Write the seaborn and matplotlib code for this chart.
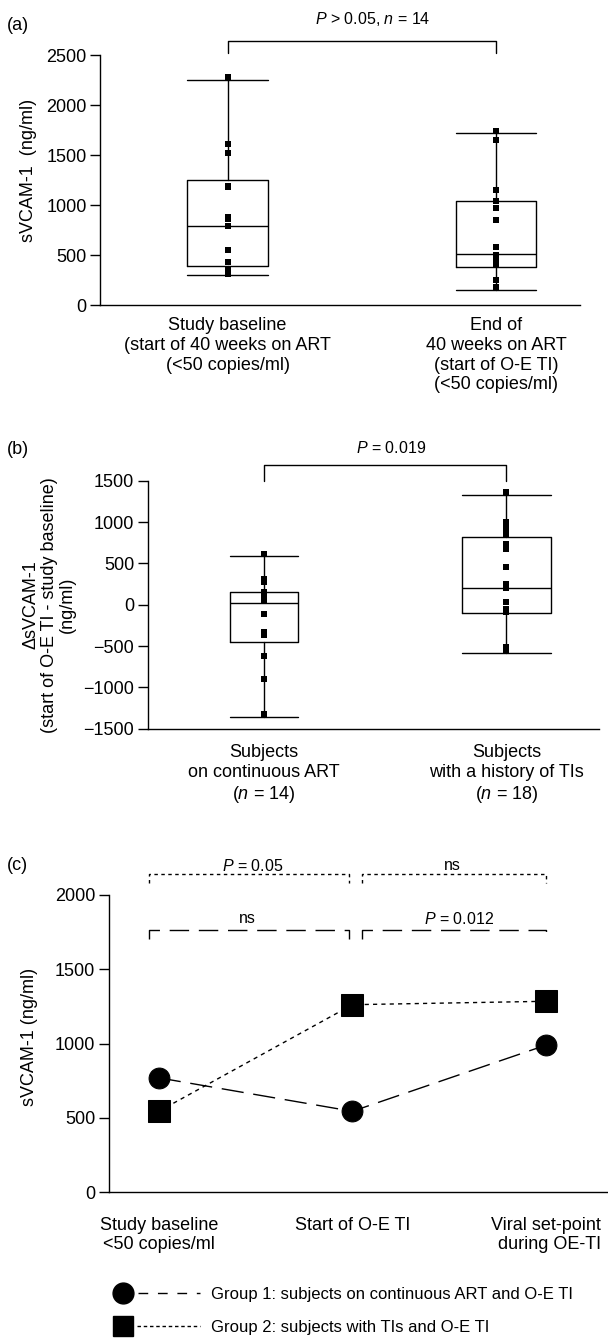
import numpy as np
import pandas as pd
import matplotlib
matplotlib.use("Agg")
import matplotlib.pyplot as plt
import seaborn as sns
from matplotlib.lines import Line2D
from matplotlib.legend_handler import HandlerLine2D

sns.set_theme(style="ticks")
plt.rcParams["font.family"] = ["Liberation Sans", "DejaVu Sans"]
plt.rcParams["mathtext.fontset"] = "custom"
plt.rcParams["mathtext.it"] = "Liberation Sans:italic"
plt.rcParams["mathtext.rm"] = "Liberation Sans"
plt.rcParams["axes.edgecolor"] = "black"
plt.rcParams["axes.linewidth"] = 1.0
plt.rcParams["xtick.color"] = "black"
plt.rcParams["ytick.color"] = "black"
plt.rcParams["text.color"] = "black"
plt.rcParams["axes.labelcolor"] = "black"

# ---------------- data ----------------
# panel (a)
a_categories = ["Study baseline\n(start of 40 weeks on ART\n(<50 copies/ml)",
                "End of\n40 weeks on ART\n(start of O-E TI)\n(<50 copies/ml)"]
a_baseline = [2280, 1612, 1525, 1195, 1180, 885, 865, 792, 548, 430, 364, 340, 325, 312]
a_end = [1743, 1650, 1150, 1043, 967, 850, 583, 500, 467, 450, 433, 410, 250, 183]
a_whislo = [303, 150]
a_q1 = [390, 377]
a_med = [787, 510]
a_q3 = [1247, 1037]
a_whishi = [2247, 1717]
a_yticks = [0, 500, 1000, 1500, 2000, 2500]

# panel (b)
b_categories = ["Subjects\non continuous ART\n($n$ = 14)",
                "Subjects\nwith a history of TIs\n($n$ = 18)"]
b_continuous = [613, 310, 295, 278, 150, 110, 70, 45, -117, -335, -367, -617, -903, -1319]
b_history = [1359, 1000, 975, 950, 883, 851, 734, 700, 673, 452, 254, 206, 32, -52, -80, -93, -508, -556]
b_whislo = [-1355, -585]
b_q1 = [-452, -97]
b_med = [20, 198]
b_q3 = [149, 819]
b_whishi = [585, 1331]
b_yticks = [-1500, -1000, -500, 0, 500, 1000, 1500]

# panel (c)
c_times = ["Study baseline\n<50 copies/ml", "Start of O-E TI", "Viral set-point\nduring OE-TI"]
c_group1 = [770, 545, 990]
c_group2 = [545, 1262, 1285]
c_labels = ["Group 1: subjects on continuous ART and O-E TI",
            "Group 2: subjects with TIs and O-E TI"]
c_yticks = [0, 500, 1000, 1500, 2000]

# ---------------- figure ----------------
fig = plt.figure(figsize=(6.08, 13.38), dpi=100)
W, H = 608, 1338


def axes_px(left, right, top, bottom):
    return fig.add_axes([left / W, 1 - bottom / H, (right - left) / W, (bottom - top) / H])


FS = 13
ANN = 11.5
LW = 1.0


def style_axes(ax, pad_x, linespacing=1.2):
    sns.despine(ax=ax)
    ax.tick_params(axis="y", length=7, width=LW, pad=3, labelsize=FS, direction="out")
    ax.tick_params(axis="x", length=0, pad=pad_x, labelsize=FS)
    ax.set_xlabel("")
    ax.set_ylabel("")
    for t in ax.get_xticklabels():
        t.set_linespacing(linespacing)


def draw_boxes(ax, lo, q1, med, q3, hi, widths):
    stats = [dict(whislo=l, q1=a, med=m, q3=b, whishi=h)
             for l, a, m, b, h in zip(lo, q1, med, q3, hi)]
    props = dict(color="black", linewidth=LW)
    ax.bxp(stats, positions=list(range(len(stats))), widths=widths, capwidths=widths,
           showfliers=False, manage_ticks=False,
           boxprops=props, whiskerprops=props, capprops=props, medianprops=props)


def bracket(ax, x0, x1, ytop, yleg, ls="-"):
    ax.plot([x0, x0, x1, x1], [yleg, ytop, ytop, yleg], color="black", lw=LW,
            linestyle=ls, clip_on=False)


LETTER_X = 7 / W

# ----- panel (a) -----
ax_a = axes_px(100.4, 580, 55, 305)
df_a = pd.DataFrame({
    "group": [a_categories[0]] * len(a_baseline) + [a_categories[1]] * len(a_end),
    "value": a_baseline + a_end,
})
draw_boxes(ax_a, a_whislo, a_q1, a_med, a_q3, a_whishi, [0.3, 0.3])
sns.stripplot(data=df_a, x="group", y="value", order=a_categories, jitter=False,
              marker="s", color="black", size=4, linewidth=0, zorder=3, ax=ax_a)
ax_a.set_xlim(-0.474, 1.313)
ax_a.set_ylim(0, 2500)
ax_a.set_yticks(a_yticks)
style_axes(ax_a, 9)
ax_a.text(-0.149, 0.54, "sVCAM-1  (ng/ml)", transform=ax_a.transAxes, rotation=90,
          ha="center", va="center", fontsize=FS)
bracket(ax_a, 0, 1, 2643, 2523)
ax_a.text(0.54, 2865, "$P$ > 0.05, $n$ = 14", ha="center", va="center", fontsize=ANN)
fig.text(LETTER_X, 1 - 25 / H, "(a)", ha="left", va="center", fontsize=FS)

# ----- panel (b) -----
ax_b = axes_px(148, 599, 480.7, 728.7)
df_b = pd.DataFrame({
    "group": [b_categories[0]] * len(b_continuous) + [b_categories[1]] * len(b_history),
    "value": b_continuous + b_history,
})
draw_boxes(ax_b, b_whislo, b_q1, b_med, b_q3, b_whishi, [0.28, 0.365])
sns.stripplot(data=df_b, x="group", y="value", order=b_categories, jitter=False,
              marker="s", color="black", size=4, linewidth=0, zorder=3, ax=ax_b)
ax_b.set_xlim(-0.476, 1.382)
ax_b.set_ylim(-1500, 1500)
ax_b.set_yticks(b_yticks)
style_axes(ax_b, 11)
ax_b.text(-0.2195, 0.5, "ΔsVCAM-1\n(start of O-E TI - study baseline)\n(ng/ml)",
          transform=ax_b.transAxes, rotation=90, ha="center", va="center",
          multialignment="center", fontsize=FS, linespacing=1.1)
bracket(ax_b, 0, 1, 1690, 1500)
ax_b.text(0.525, 1895, "$P$ = 0.019", ha="center", va="center", fontsize=ANN)
fig.text(LETTER_X, 1 - 449 / H, "(b)", ha="left", va="center", fontsize=FS)

# ----- panel (c) -----
ax_c = axes_px(109, 607, 895, 1192.3)
xpos = np.arange(len(c_times))
dash1 = (0, (16, 7))
dot2 = (0, (3, 3))
sns.lineplot(x=xpos, y=c_group1, ax=ax_c, color="black", lw=LW, linestyle=dash1,
             marker="o", markersize=15, markeredgecolor="black", markerfacecolor="black")
sns.lineplot(x=xpos, y=c_group2, ax=ax_c, color="black", lw=LW, linestyle=dot2,
             marker="s", markersize=16, markeredgecolor="black", markerfacecolor="black")
if ax_c.get_legend() is not None:
    ax_c.get_legend().remove()
ax_c.set_xlim(-0.257, 2.315)
ax_c.set_ylim(0, 2000)
ax_c.set_yticks(c_yticks)
ax_c.set_xticks(xpos)
ax_c.set_xticklabels(c_times)
style_axes(ax_c, 18, linespacing=1.1)
ax_c.get_xticklabels()[2].set_multialignment("right")
ax_c.text(-0.160, 0.522, "sVCAM-1 (ng/ml)", transform=ax_c.transAxes, rotation=90,
          ha="center", va="center", fontsize=FS)
# dotted brackets (group 2)
bracket(ax_c, -0.05, 0.985, 2141, 2081, ls=(0, (2.5, 2.5)))
bracket(ax_c, 1.05, 2.0, 2141, 2081, ls=(0, (2.5, 2.5)))
ax_c.text(0.485, 2197, "$P$ = 0.05", ha="center", va="center", fontsize=ANN)
ax_c.text(1.515, 2197, "ns", ha="center", va="center", fontsize=ANN)
# dashed brackets (group 1)
bracket(ax_c, -0.05, 0.985, 1766, 1705, ls=(0, (14, 7)))
bracket(ax_c, 1.05, 2.0, 1766, 1705, ls=(0, (14, 7)))
ax_c.text(0.46, 1840, "ns", ha="center", va="center", fontsize=ANN)
ax_c.text(1.55, 1840, "$P$ = 0.012", ha="center", va="center", fontsize=ANN)
fig.text(LETTER_X, 1 - 866 / H, "(c)", ha="left", va="center", fontsize=FS)


class MarkerFirstHandler(HandlerLine2D):
    def create_artists(self, legend, orig_handle, xdescent, ydescent, width, height,
                       fontsize, trans):
        y = (height - ydescent) / 2
        ms = orig_handle.get_markersize()
        x0 = -xdescent
        x1 = -xdescent + width
        line = Line2D([x0 + ms + 3, x1], [y, y])
        self.update_prop(line, orig_handle, legend)
        line.set_marker("None")
        mk = Line2D([x0 + ms / 2], [y])
        self.update_prop(mk, orig_handle, legend)
        mk.set_linestyle("None")
        line.set_transform(trans)
        mk.set_transform(trans)
        return [line, mk]


h1 = Line2D([], [], color="black", lw=LW, linestyle=(0, (7, 7)), marker="o",
            markersize=15, markerfacecolor="black", markeredgecolor="black")
h2 = Line2D([], [], color="black", lw=LW, linestyle=(0, (2.5, 2)), marker="s",
            markersize=14, markerfacecolor="black", markeredgecolor="black")
fig.legend([h1, h2], c_labels, loc="center left", bbox_to_anchor=(113 / W, 1 - 1311 / H),
           frameon=False, fontsize=12, handlelength=5.2, handletextpad=0.7,
           labelspacing=1.1, borderpad=0, borderaxespad=0,
           handler_map={Line2D: MarkerFirstHandler()})

fig.savefig("out.png", dpi=100)
